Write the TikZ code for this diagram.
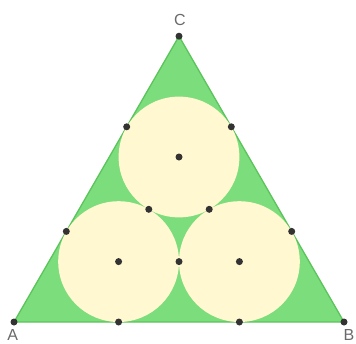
\documentclass[tikz,border=0pt]{standalone}
\usepackage{fontspec}
\setsansfont{Liberation Sans}
\usetikzlibrary{calc}
\definecolor{tri}{HTML}{7BDD7B}
\definecolor{triedge}{HTML}{5CC45C}
\definecolor{disc}{HTML}{FFF8D0}
\definecolor{dot}{HTML}{333333}
\definecolor{lbl}{HTML}{6A6A6A}

\begin{document}
\begin{tikzpicture}[
    x=1pt, y=-1pt,
    tribox/.style={fill=tri, draw=triedge, line width=1.3pt, line join=round},
    discfill/.style={fill=disc},
    vlabel/.style={font=\sffamily\fontsize{16}{16}\selectfont, text=lbl, inner sep=0pt}
]
    \useasboundingbox (0,0) rectangle (356,343);
    % vertices and centres
    \coordinate (A) at (14,322);
    \coordinate (B) at (344,322);
    \coordinate (C) at (179,36.2);
    \coordinate (O1) at (118.6,261.6);
    \coordinate (O2) at (239.4,261.6);
    \coordinate (O3) at (179,157.0);
    % tangent points
    \coordinate (T1) at ($(A)!(O1)!(B)$);
    \coordinate (T2) at ($(A)!(O2)!(B)$);
    \coordinate (T3) at ($(A)!(O1)!(C)$);
    \coordinate (T4) at ($(A)!(O3)!(C)$);
    \coordinate (T5) at ($(B)!(O2)!(C)$);
    \coordinate (T6) at ($(B)!(O3)!(C)$);
    \coordinate (T7) at ($(O1)!0.5!(O2)$);
    \coordinate (T8) at ($(O1)!0.5!(O3)$);
    \coordinate (T9) at ($(O2)!0.5!(O3)$);

    \draw[tribox] (A) -- (B) -- (C) -- cycle;
    \foreach \o in {O1,O2,O3}
        \fill[discfill] (\o) circle (60.4);

    \foreach \p in {A,B,C,O1,O2,O3,T1,T2,T3,T4,T5,T6,T7,T8,T9}
        \fill[dot] (\p) circle (3.5);

    \node[vlabel] (labA) at (12.7,335.3) {A};
    \node[vlabel] (labB) at (349,335.3) {B};
    \node[vlabel] (labC) at (180,19.5) {C};
\end{tikzpicture}
\end{document}
